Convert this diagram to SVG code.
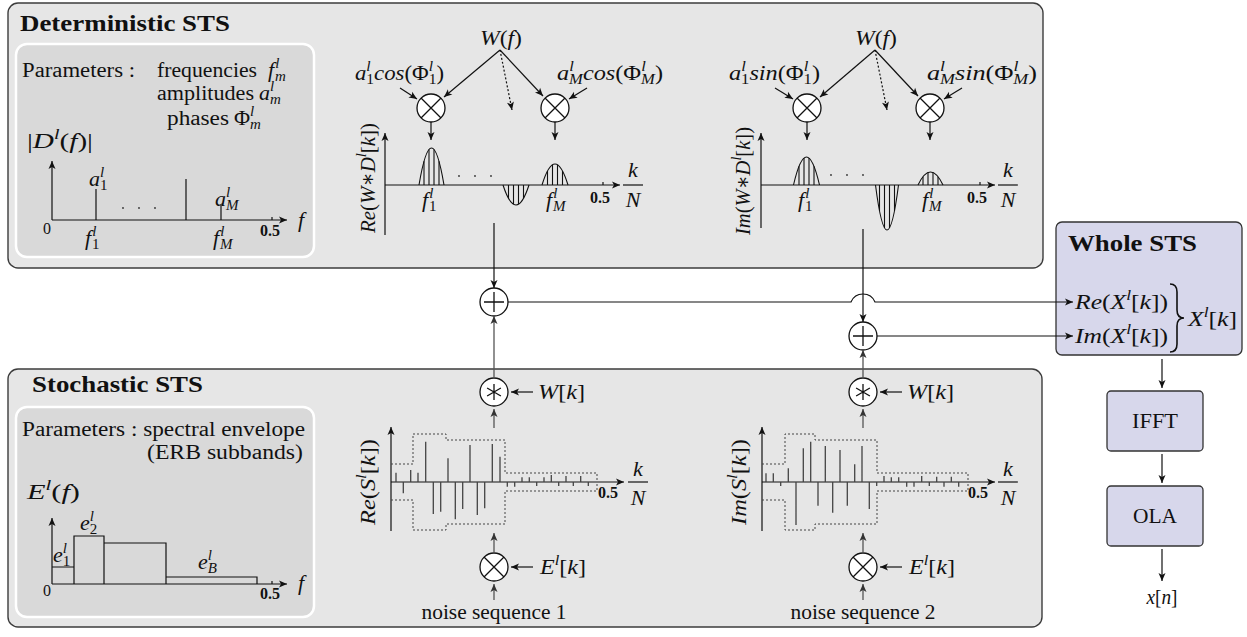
<svg xmlns="http://www.w3.org/2000/svg" width="1247" height="637" viewBox="0 0 1247 637" font-family="Liberation Serif, DejaVu Serif, serif">
<defs>
<marker id="ah" viewBox="-9 -5 10 10" refX="0" refY="0" markerWidth="10" markerHeight="10" markerUnits="userSpaceOnUse" orient="auto"><path d="M0,0 L-8,-3.5 L-6,0 L-8,3.5 Z" fill="#111"/></marker>
<marker id="ahg" viewBox="-9 -5 10 10" refX="0" refY="0" markerWidth="10" markerHeight="10" markerUnits="userSpaceOnUse" orient="auto"><path d="M0,0 L-8,-3.5 L-6,0 L-8,3.5 Z" fill="#333"/></marker>
</defs>
<style>
.box{fill:#e6e6e6;stroke:#3c3c3c;stroke-width:1.4}
.inner{fill:#d9d9d9;stroke:#fff;stroke-width:2.5}
.blue{fill:#d7d7eb;stroke:#333;stroke-width:1.3}
.t{font-family:"Liberation Serif","DejaVu Serif",serif;font-size:20px;fill:#111}
.b{font-family:"Liberation Serif","DejaVu Serif",serif;font-weight:bold;font-size:23px;fill:#111}
.m{font-family:"Liberation Serif","DejaVu Serif",serif;font-style:italic;font-size:22px;fill:#111}
.s{font-size:15px}
.u{font-style:normal}
.n{font-family:"Liberation Serif","DejaVu Serif",serif;font-weight:bold;font-size:16px;fill:#111}
.z{font-family:"Liberation Serif","DejaVu Serif",serif;font-size:16px;fill:#111}
.ln{stroke:#111;stroke-width:1.2;fill:none}
.ar{stroke:#111;stroke-width:1.2;fill:none;marker-end:url(#ah)}
.arg{stroke:#555;stroke-width:1.3;fill:none;marker-end:url(#ahg)}
.dot{stroke:#111;stroke-width:1.2;stroke-dasharray:2 2;fill:none;marker-end:url(#ah)}
.env{stroke:#444;stroke-width:1;stroke-dasharray:2 2;fill:none}
.sp{stroke:#444;stroke-width:1.3}
.bump{stroke:#111;stroke-width:1.1;fill:none}
.op{fill:#fff;stroke:#111;stroke-width:1.3}
.opl{stroke:#111;stroke-width:1.3}
.dt{fill:#333}
</style>

<g id="deterministic-sts">
<rect class="box" x="8" y="3" width="1035" height="265" rx="10"/>
<text class="b" x="20" y="31" textLength="210" lengthAdjust="spacingAndGlyphs">Deterministic STS</text>
<g id="det-parameters">
<rect class="inner" x="16" y="44" width="298" height="213" rx="11"/>
<text class="t" x="22" y="77" textLength="113" lengthAdjust="spacingAndGlyphs">Parameters :</text>
<text class="t" x="157" y="77" textLength="100" lengthAdjust="spacingAndGlyphs">frequencies</text>
<text class="m" x="268" y="77">f<tspan class="s" dx="1" dy="-9">l</tspan><tspan class="s" dx="-4.2" dy="13">m</tspan></text>
<text class="t" x="157" y="100" textLength="97" lengthAdjust="spacingAndGlyphs">amplitudes</text>
<text class="m" x="259" y="100">a<tspan class="s" dy="-9">l</tspan><tspan class="s" dx="-4.2" dy="13">m</tspan></text>
<text class="t" x="167" y="125" textLength="62" lengthAdjust="spacingAndGlyphs">phases</text>
<text class="m" x="234" y="125"><tspan class="u">Φ</tspan><tspan class="s" dy="-9">l</tspan><tspan class="s" dx="-4.2" dy="13">m</tspan></text>
<text class="m" x="27" y="148" textLength="66" lengthAdjust="spacingAndGlyphs"><tspan class="u">|</tspan>D<tspan class="s" dy="-9">l</tspan><tspan dy="9"><tspan class="u">(</tspan>f<tspan class="u">)|</tspan></tspan></text>
<line class="ar" x1="52" y1="220" x2="52" y2="161"/>
<line class="ar" x1="52" y1="220" x2="287" y2="220"/>
<line class="ln" x1="96" y1="220" x2="96" y2="189"/>
<line class="ln" x1="186" y1="220" x2="186" y2="179"/>
<line class="ln" x1="221" y1="220" x2="221" y2="205"/>
<line class="ln" x1="272" y1="217" x2="272" y2="220" stroke-width="0.8"/>
<circle class="dt" cx="123" cy="208" r="0.9"/><circle class="dt" cx="139" cy="208" r="0.9"/><circle class="dt" cx="155" cy="208" r="0.9"/>
<text class="m" x="89" y="186">a<tspan class="s" dy="-9">l</tspan><tspan class="s u" dx="-4.2" dy="13">1</tspan></text>
<text class="m" x="215" y="206">a<tspan class="s" dy="-9">l</tspan><tspan class="s" dx="-4.2" dy="13">M</tspan></text>
<text class="m" x="85" y="245">f<tspan class="s" dx="1" dy="-9">l</tspan><tspan class="s u" dx="-4.2" dy="13">1</tspan></text>
<text class="m" x="213" y="245">f<tspan class="s" dx="1" dy="-9">l</tspan><tspan class="s" dx="-4.2" dy="13">M</tspan></text>
<text class="z" x="47" y="234" text-anchor="middle">0</text>
<text class="n" x="270" y="236" text-anchor="middle">0.5</text>
<text class="m" x="298" y="227">f</text>
</g>

<g id="det-real">
<text class="m" x="501" y="45" text-anchor="middle" textLength="42" lengthAdjust="spacingAndGlyphs">W<tspan class="u">(</tspan>f<tspan class="u">)</tspan></text>
<text class="m" x="355" y="80" textLength="89" lengthAdjust="spacingAndGlyphs">a<tspan class="s" dy="-9">l</tspan><tspan class="s u" dx="-4.2" dy="13">1</tspan><tspan dy="-4">cos<tspan class="u">(Φ</tspan></tspan><tspan class="s" dy="-9">l</tspan><tspan class="s u" dx="-4.2" dy="13">1</tspan><tspan class="u" dy="-4">)</tspan></text>
<text class="m" x="557" y="80" textLength="106" lengthAdjust="spacingAndGlyphs">a<tspan class="s" dy="-9">l</tspan><tspan class="s" dx="-4.2" dy="13">M</tspan><tspan dy="-4">cos<tspan class="u">(Φ</tspan></tspan><tspan class="s" dy="-9">l</tspan><tspan class="s" dx="-4.2" dy="13">M</tspan><tspan class="u" dy="-4">)</tspan></text>
<line class="ar" x1="500" y1="50" x2="444" y2="97"/>
<line class="ar" x1="500" y1="50" x2="543" y2="96"/>
<line class="dot" x1="500" y1="50" x2="512" y2="110"/>
<line class="ar" x1="400" y1="88" x2="417" y2="99"/>
<line class="ar" x1="587" y1="88" x2="569" y2="99"/>
<g id="mul-re-1"><circle class="op" cx="431" cy="108" r="14"/><path class="opl" d="M421,98 L441,118 M441,98 L421,118"/></g>
<g id="mul-re-M"><circle class="op" cx="555" cy="108" r="14"/><path class="opl" d="M545,98 L565,118 M565,98 L545,118"/></g>
<line class="ar" x1="431" y1="122" x2="431" y2="140"/>
<line class="ar" x1="555" y1="122" x2="555" y2="140"/>
<line class="ar" x1="385" y1="235" x2="385" y2="133"/>
<line class="ar" x1="385" y1="185" x2="620" y2="185"/>
<path class="bump" d="M419,185 Q431.5,111 444,185"/>
<path class="bump" d="M424,185V161.3M429,185V149.5M434,185V149.5M439,185V161.3"/>
<path class="bump" d="M503,185 Q516,225 529,185"/>
<path class="bump" d="M508.5,185V198.3M513.5,185V204.3M518.5,185V204.3M523.5,185V198.3"/>
<path class="bump" d="M542,185 Q555,143 568,185"/>
<path class="bump" d="M547.5,185V171M552.5,185V164.8M557.5,185V164.8M562.5,185V171"/>
<line class="ln" x1="603" y1="182" x2="603" y2="185" stroke-width="0.8"/>
<circle class="dt" cx="459" cy="176" r="0.9"/><circle class="dt" cx="475" cy="176" r="0.9"/><circle class="dt" cx="491" cy="176" r="0.9"/>
<text class="m" x="422" y="207">f<tspan class="s" dx="1" dy="-9">l</tspan><tspan class="s u" dx="-4.2" dy="13">1</tspan></text>
<text class="m" x="546" y="207">f<tspan class="s" dx="1" dy="-9">l</tspan><tspan class="s" dx="-4.2" dy="13">M</tspan></text>
<text class="n" x="600" y="203" text-anchor="middle">0.5</text>
<text class="m" x="633" y="177" text-anchor="middle">k</text>
<line class="ln" x1="623" y1="185" x2="643" y2="185"/>
<text class="m" x="633" y="207" text-anchor="middle">N</text>
<text class="m" transform="translate(375,178) rotate(-90)" text-anchor="middle" textLength="110" lengthAdjust="spacingAndGlyphs">Re<tspan class="u">(</tspan>W∗D<tspan class="s" dy="-9">l</tspan><tspan dy="9"><tspan class="u">[</tspan>k<tspan class="u">])</tspan></tspan></text>
</g>

<g id="det-imag">
<text class="m" x="876" y="45" text-anchor="middle" textLength="42" lengthAdjust="spacingAndGlyphs">W<tspan class="u">(</tspan>f<tspan class="u">)</tspan></text>
<text class="m" x="729" y="80" textLength="91" lengthAdjust="spacingAndGlyphs">a<tspan class="s" dy="-9">l</tspan><tspan class="s u" dx="-4.2" dy="13">1</tspan><tspan dy="-4">sin<tspan class="u">(Φ</tspan></tspan><tspan class="s" dy="-9">l</tspan><tspan class="s u" dx="-4.2" dy="13">1</tspan><tspan class="u" dy="-4">)</tspan></text>
<text class="m" x="927" y="80" textLength="110" lengthAdjust="spacingAndGlyphs">a<tspan class="s" dy="-9">l</tspan><tspan class="s" dx="-4.2" dy="13">M</tspan><tspan dy="-4">sin<tspan class="u">(Φ</tspan></tspan><tspan class="s" dy="-9">l</tspan><tspan class="s" dx="-4.2" dy="13">M</tspan><tspan class="u" dy="-4">)</tspan></text>
<line class="ar" x1="875" y1="50" x2="820" y2="97"/>
<line class="ar" x1="875" y1="50" x2="918" y2="96"/>
<line class="dot" x1="875" y1="50" x2="887" y2="110"/>
<line class="ar" x1="775" y1="88" x2="793" y2="99"/>
<line class="ar" x1="962" y1="88" x2="944" y2="99"/>
<g id="mul-im-1"><circle class="op" cx="807" cy="108" r="14"/><path class="opl" d="M797,98 L817,118 M817,98 L797,118"/></g>
<g id="mul-im-M"><circle class="op" cx="930" cy="108" r="14"/><path class="opl" d="M920,98 L940,118 M940,98 L920,118"/></g>
<line class="ar" x1="807" y1="122" x2="807" y2="140"/>
<line class="ar" x1="930" y1="122" x2="930" y2="140"/>
<line class="ar" x1="761" y1="228" x2="761" y2="133"/>
<line class="ar" x1="761" y1="185" x2="995" y2="185"/>
<path class="bump" d="M793.5,185 Q806.5,129 819.5,185"/>
<path class="bump" d="M799,185V166.3M804,185V158M809,185V158M814,185V166.3"/>
<path class="bump" d="M875.5,185 Q887,275 898.5,185"/>
<path class="bump" d="M879.5,185V210.9M884.5,185V227.9M889.5,185V227.9M894.5,185V210.9"/>
<path class="bump" d="M918,185 Q930.5,159 943,185"/>
<path class="bump" d="M923,185V176.7M928,185V172.5M933,185V172.5M938,185V176.7"/>
<line class="ln" x1="980" y1="182" x2="980" y2="185" stroke-width="0.8"/>
<circle class="dt" cx="831" cy="175" r="0.9"/><circle class="dt" cx="847" cy="175" r="0.9"/><circle class="dt" cx="863" cy="175" r="0.9"/>
<text class="m" x="798" y="207">f<tspan class="s" dx="1" dy="-9">l</tspan><tspan class="s u" dx="-4.2" dy="13">1</tspan></text>
<text class="m" x="922" y="207">f<tspan class="s" dx="1" dy="-9">l</tspan><tspan class="s" dx="-4.2" dy="13">M</tspan></text>
<text class="n" x="977" y="203" text-anchor="middle">0.5</text>
<text class="m" x="1008" y="177" text-anchor="middle">k</text>
<line class="ln" x1="998" y1="185" x2="1018" y2="185"/>
<text class="m" x="1008" y="207" text-anchor="middle">N</text>
<text class="m" transform="translate(750,181) rotate(-90)" text-anchor="middle" textLength="108" lengthAdjust="spacingAndGlyphs">Im<tspan class="u">(</tspan>W∗D<tspan class="s" dy="-9">l</tspan><tspan dy="9"><tspan class="u">[</tspan>k<tspan class="u">])</tspan></tspan></text>
</g>
</g>

<g id="stochastic-sts">
<rect class="box" x="8" y="369" width="1034" height="258" rx="10"/>
<text class="b" x="32" y="392" textLength="171" lengthAdjust="spacingAndGlyphs">Stochastic STS</text>
<g id="sto-parameters">
<rect class="inner" x="16" y="407" width="298" height="210" rx="11"/>
<text class="t" x="22" y="436" textLength="283" lengthAdjust="spacingAndGlyphs">Parameters : spectral envelope</text>
<text class="t" x="147" y="459" textLength="156" lengthAdjust="spacingAndGlyphs">(ERB subbands)</text>
<text class="m" x="27" y="499" textLength="53" lengthAdjust="spacingAndGlyphs">E<tspan class="s" dy="-9">l</tspan><tspan dy="9"><tspan class="u">(</tspan>f<tspan class="u">)</tspan></tspan></text>
<line class="ar" x1="52" y1="584" x2="52" y2="518"/>
<line class="ar" x1="52" y1="584" x2="287" y2="584"/>
<path class="ln" d="M52,567 H74 V584 M74,584 V536 H104 V584 M104,543 H166 V584 M166,577 H257 V584"/>
<line class="ln" x1="272" y1="581" x2="272" y2="584" stroke-width="0.8"/>
<text class="m" x="53" y="562">e<tspan class="s" dy="-9">l</tspan><tspan class="s u" dx="-4.2" dy="13">1</tspan></text>
<text class="m" x="80" y="530">e<tspan class="s" dy="-9">l</tspan><tspan class="s u" dx="-4.2" dy="13">2</tspan></text>
<text class="m" x="198" y="569">e<tspan class="s" dy="-9">l</tspan><tspan class="s" dx="-4.2" dy="13">B</tspan></text>
<text class="z" x="47" y="596" text-anchor="middle">0</text>
<text class="n" x="270" y="599" text-anchor="middle">0.5</text>
<text class="m" x="298" y="590">f</text>
</g>

<g id="sto-real">
<line class="ar" x1="391" y1="531" x2="391" y2="427"/>
<line class="ar" x1="391" y1="482" x2="624" y2="482"/>
<path class="env" d="M391,464 H413 V434 H446 V440 H505 V473 H597 V482 M391,500 H413 V530 H446 V524 H505 V491 H597 V482"/>
<path class="sp" d="M396,482V472.7M403.3,482V493.3M410.7,482V470M418,482V472.7M425.7,482V441.7M433.3,482V514M440.7,482V511.7M448,482V458.3M455.3,482V519.3M462.7,482V509M470,482V445M477.3,482V515M484.7,482V508.3M492.3,482V444M500,482V456.7M507.3,482V486.7M514.7,482V486.7M522,482V477.3M529.3,482V477.3M536.7,482V486M544,482V477.3M551.3,482V475M558.7,482V486M566,482V476M573.3,482V486M580.7,482V476M588.3,482V486"/>
<text class="n" x="608" y="498" text-anchor="middle">0.5</text>
<text class="m" x="638" y="476" text-anchor="middle">k</text>
<line class="ln" x1="628" y1="482" x2="648" y2="482"/>
<text class="m" x="638" y="505" text-anchor="middle">N</text>
<text class="m" transform="translate(375,482) rotate(-90)" text-anchor="middle" textLength="86" lengthAdjust="spacingAndGlyphs">Re<tspan class="u">(</tspan>S<tspan class="s" dy="-9">l</tspan><tspan dy="9"><tspan class="u">[</tspan>k<tspan class="u">])</tspan></tspan></text>
<g id="conv-re"><circle class="op" cx="494" cy="392" r="14"/><path class="opl" d="M494,384V400M487.1,388L500.9,396M487.1,396L500.9,388"/></g>
<line class="ar" x1="533" y1="392" x2="511" y2="392"/>
<text class="m" x="538" y="399" textLength="47" lengthAdjust="spacingAndGlyphs">W<tspan class="u">[</tspan>k<tspan class="u">]</tspan></text>
<g id="mul-noise-re"><circle class="op" cx="494" cy="567" r="14"/><path class="opl" d="M484,557 L504,577 M504,557 L484,577"/></g>
<line class="ar" x1="533" y1="567" x2="511" y2="567"/>
<text class="m" x="540" y="574" textLength="46" lengthAdjust="spacingAndGlyphs">E<tspan class="s" dy="-9">l</tspan><tspan dy="9"><tspan class="u">[</tspan>k<tspan class="u">]</tspan></tspan></text>
<line class="arg" x1="494" y1="428" x2="494" y2="409"/>
<line class="arg" x1="494" y1="552" x2="494" y2="533"/>
<line class="arg" x1="494" y1="600" x2="494" y2="584"/>
<text class="t" x="494" y="619" text-anchor="middle" textLength="145" lengthAdjust="spacingAndGlyphs">noise sequence 1</text>
</g>

<g id="sto-imag">
<line class="ar" x1="762" y1="531" x2="762" y2="427"/>
<line class="ar" x1="762" y1="482" x2="995" y2="482"/>
<path class="env" d="M762,464 H785 V434 H815 V440 H877 V473 H968 V482 M762,500 H785 V530 H815 V524 H877 V491 H968 V482"/>
<path class="sp" d="M766,482V473.3M773.3,482V473.3M780.7,482V486M788.3,482V468.3M796,482V525M803.3,482V448.3M810.7,482V441.7M818,482V505.7M825.3,482V446M832.7,482V512.7M840,482V450M847.3,482V505.7M854.7,482V464.3M862,482V446M869.3,482V509M876.7,482V486M884,482V476M891.3,482V477.3M898.7,482V477.3M906.7,482V486.7M914,482V486.7M921.7,482V476M929.3,482V486M936.7,482V476.7M944,482V486.7M951.3,482V476.7M958.7,482V486.7"/>
<text class="n" x="978" y="498" text-anchor="middle">0.5</text>
<text class="m" x="1008" y="476" text-anchor="middle">k</text>
<line class="ln" x1="998" y1="482" x2="1018" y2="482"/>
<text class="m" x="1008" y="505" text-anchor="middle">N</text>
<text class="m" transform="translate(746,482) rotate(-90)" text-anchor="middle" textLength="86" lengthAdjust="spacingAndGlyphs">Im<tspan class="u">(</tspan>S<tspan class="s" dy="-9">l</tspan><tspan dy="9"><tspan class="u">[</tspan>k<tspan class="u">])</tspan></tspan></text>
<g id="conv-im"><circle class="op" cx="863" cy="392" r="14"/><path class="opl" d="M863,384V400M856.1,388L869.9,396M856.1,396L869.9,388"/></g>
<line class="ar" x1="902" y1="392" x2="880" y2="392"/>
<text class="m" x="907" y="399" textLength="47" lengthAdjust="spacingAndGlyphs">W<tspan class="u">[</tspan>k<tspan class="u">]</tspan></text>
<g id="mul-noise-im"><circle class="op" cx="863" cy="567" r="14"/><path class="opl" d="M853,557 L873,577 M873,557 L853,577"/></g>
<line class="ar" x1="902" y1="567" x2="880" y2="567"/>
<text class="m" x="909" y="574" textLength="46" lengthAdjust="spacingAndGlyphs">E<tspan class="s" dy="-9">l</tspan><tspan dy="9"><tspan class="u">[</tspan>k<tspan class="u">]</tspan></tspan></text>
<line class="arg" x1="863" y1="428" x2="863" y2="409"/>
<line class="arg" x1="863" y1="552" x2="863" y2="533"/>
<line class="arg" x1="863" y1="600" x2="863" y2="584"/>
<text class="t" x="863" y="619" text-anchor="middle" textLength="145" lengthAdjust="spacingAndGlyphs">noise sequence 2</text>
</g>
</g>

<g id="sum-re"><circle class="op" cx="494" cy="302" r="14"/><path class="opl" d="M484,302H504M494,292V312"/></g>
<g id="sum-im"><circle class="op" cx="863" cy="336" r="14"/><path class="opl" d="M853,336H873M863,326V346"/></g>

<g id="whole-sts">
<rect class="blue" x="1056" y="222" width="186" height="133" rx="6"/>
<text class="b" x="1068" y="251" textLength="129" lengthAdjust="spacingAndGlyphs">Whole STS</text>
<text class="m" x="1075" y="309" textLength="93" lengthAdjust="spacingAndGlyphs">Re<tspan class="u">(</tspan>X<tspan class="s" dy="-9">l</tspan><tspan dy="9"><tspan class="u">[</tspan>k<tspan class="u">])</tspan></tspan></text>
<text class="m" x="1075" y="343" textLength="93" lengthAdjust="spacingAndGlyphs">Im<tspan class="u">(</tspan>X<tspan class="s" dy="-9">l</tspan><tspan dy="9"><tspan class="u">[</tspan>k<tspan class="u">])</tspan></tspan></text>
<path d="M1170,284 Q1177,284 1177,292 L1177,310 Q1177,318 1184,318 Q1177,318 1177,326 L1177,344 Q1177,352 1170,352" fill="none" stroke="#111" stroke-width="1.6"/>
<text class="m" x="1188" y="326" textLength="49" lengthAdjust="spacingAndGlyphs">X<tspan class="s" dy="-9">l</tspan><tspan dy="9"><tspan class="u">[</tspan>k<tspan class="u">]</tspan></tspan></text>
</g>
<g id="ifft">
<rect class="blue" x="1107" y="391" width="96" height="60" rx="4"/>
<text class="t" x="1155" y="428" text-anchor="middle" textLength="46" lengthAdjust="spacingAndGlyphs">IFFT</text>
</g>
<g id="ola">
<rect class="blue" x="1107" y="486" width="96" height="60" rx="4"/>
<text class="t" x="1155" y="523" text-anchor="middle" textLength="44" lengthAdjust="spacingAndGlyphs">OLA</text>
</g>
<g id="output">
<text class="m" x="1162" y="604" text-anchor="middle" textLength="31" lengthAdjust="spacingAndGlyphs">x<tspan class="u">[</tspan>n<tspan class="u">]</tspan></text>
</g>

<g id="connectors">
<line class="ar" x1="494" y1="223" x2="494" y2="288"/>
<line class="arg" x1="494" y1="378" x2="494" y2="316"/>
<line class="ar" x1="863" y1="229" x2="863" y2="322"/>
<line class="arg" x1="863" y1="378" x2="863" y2="350"/>
<path class="ar" d="M508,302 H851 A13,13 0 0 1 875,302 H1073"/>
<line class="ar" x1="877" y1="336" x2="1073" y2="336"/>
<line class="ar" x1="1162" y1="359" x2="1162" y2="388"/>
<line class="ar" x1="1162" y1="454" x2="1162" y2="483"/>
<line class="ar" x1="1162" y1="549" x2="1162" y2="581"/>
</g>
</svg>
